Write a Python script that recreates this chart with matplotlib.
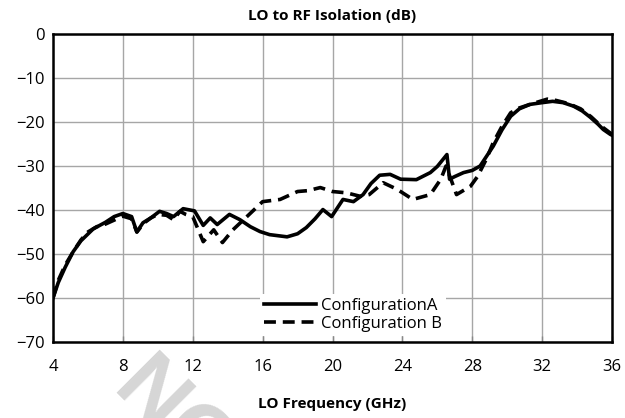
import numpy as np
import matplotlib.pyplot as plt

plt.rcParams['font.family'] = ['Open Sans', 'DejaVu Sans']

# Configuration A (solid)
freqA = [4.0, 4.3, 4.7, 5.15, 5.6, 6.3, 7.0, 7.5, 8.0, 8.5, 8.8, 9.15, 9.6, 10.1, 10.5,
         10.9, 11.45, 12.1, 12.6, 13.0, 13.4, 14.1, 14.7, 15.3, 15.85, 16.4, 17.4,
         18.0, 18.5, 19.0, 19.45, 19.95, 20.6, 21.2, 21.75, 22.2, 22.7, 23.3, 23.9,
         24.8, 25.6, 26.0, 26.55, 26.7, 27.0, 27.5, 28.0, 28.45, 29.2, 29.7, 30.2,
         30.7, 31.3, 32.0, 32.6, 33.2, 33.8, 34.3, 34.75, 35.2, 35.5, 35.9, 36.0]
valA = [-60.0, -56.5, -53.0, -49.5, -47.0, -44.3, -42.8, -41.5, -40.8, -41.5, -45.0, -42.9, -41.8, -40.3, -40.8,
        -41.5, -39.7, -40.2, -43.5, -41.8, -43.3, -41.0, -42.2, -43.8, -44.9, -45.6, -46.1,
        -45.4, -44.0, -42.0, -39.9, -41.5, -37.6, -38.1, -36.5, -34.0, -32.1, -31.9, -33.0,
        -33.1, -31.5, -30.1, -27.4, -33.0, -32.4, -31.5, -31.0, -30.0, -25.5, -21.8, -18.7,
        -17.0, -16.0, -15.6, -15.3, -15.6, -16.4, -17.5, -18.9, -20.5, -21.7, -22.8, -23.0]

# Configuration B (dashed)
freqB = [4.0, 4.3, 4.7, 5.15, 5.6, 6.0, 6.5, 7.0, 7.5, 8.0, 8.5, 8.8, 9.2, 9.6, 10.0,
         10.5, 10.9, 11.27, 11.6, 12.0, 12.6, 13.2, 13.7, 14.3, 15.1, 16.0, 17.0,
         18.0, 18.6, 19.3, 20.0, 20.8, 21.6, 22.1, 22.9, 23.7, 24.6, 25.6, 26.2,
         26.5, 27.1, 27.9, 28.3, 28.8, 29.2, 29.7, 30.2, 30.7, 31.3, 32.3, 32.8,
         33.5, 34.2, 34.8, 35.4, 36.0]
valB = [-60.0, -56.0, -52.5, -49.5, -46.8, -45.0, -43.8, -43.2, -42.3, -41.4, -42.0, -45.0, -43.0, -41.8, -41.0,
        -41.2, -42.2, -40.3, -41.0, -41.5, -47.2, -44.5, -47.4, -44.5, -41.5, -38.1, -37.6,
        -35.8, -35.6, -34.9, -35.8, -36.1, -36.9, -36.5, -33.8, -35.3, -37.6, -36.5, -33.0,
        -30.0, -36.5, -34.6, -32.4, -28.5, -24.7, -21.0, -17.9, -16.8, -16.0, -14.8, -15.1,
        -15.8, -17.0, -18.8, -21.0, -22.8]

title = 'LO to RF Isolation (dB)'
xlabel = 'LO Frequency (GHz)'
names = ['ConfigurationA', 'Configuration B']

fig = plt.figure(figsize=(6.25, 4.18), dpi=100)
ax = fig.add_axes([53/625, 1 - 342/418, (612-53)/625, (342-34)/418])

ax.plot(freqA, valA, color='black', lw=2.6, label=names[0], zorder=3)
ax.plot(freqB, valB, color='black', lw=2.6, ls=(0, (3.3, 1.9)), label=names[1], zorder=3)

ax.set_xlim(4, 36)
ax.set_ylim(-70, 0)
ax.set_xticks(np.arange(4, 37, 4))
ax.set_yticks(np.arange(-70, 1, 10))
ax.grid(True, color='#a6a6a6', lw=1.0)
ax.set_axisbelow(True)
for s in ax.spines.values():
    s.set_linewidth(1.8)
    s.set_color('black')
ax.tick_params(axis='x', direction='in', length=4, width=1, color='#888888', labelsize=12, pad=12)
ax.tick_params(axis='y', length=0, labelsize=12, pad=6)

ax.set_title(title, fontsize=11, fontweight='bold', pad=10)
ax.set_xlabel(xlabel, fontsize=11, fontweight='bold', labelpad=16)

leg = ax.legend(loc='upper left', bbox_to_anchor=(260/625, 1 - 294/418), bbox_transform=fig.transFigure,
                frameon=True, fontsize=12, handlelength=3.1, handletextpad=0.3, labelspacing=0.1,
                borderpad=0.25, borderaxespad=0, fancybox=False)
leg.get_frame().set_edgecolor('none')
leg.get_frame().set_facecolor('white')
leg.get_frame().set_alpha(1)

# watermark
fig.text(110/625, 1 - 392/418, 'NO', fontsize=64, fontweight='bold', family='Liberation Sans',
         color='#d6d6d6', rotation=-45, rotation_mode='anchor', ha='left', va='baseline', zorder=-1)

fig.savefig('out.png', dpi=100)
